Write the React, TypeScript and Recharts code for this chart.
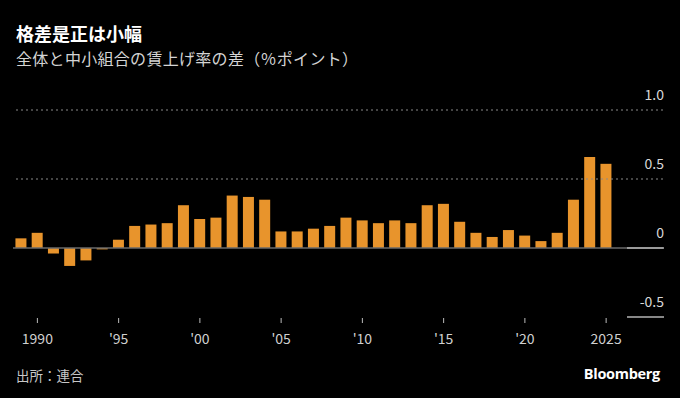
import React from 'react';
import { BarChart, Bar, XAxis, YAxis, ReferenceLine } from 'recharts';

// years 1989-2025, plus empty slots to leave room for the right-hand labels
const years = [
  1989, 1990, 1991, 1992, 1993, 1994, 1995, 1996, 1997, 1998,
  1999, 2000, 2001, 2002, 2003, 2004, 2005, 2006, 2007, 2008,
  2009, 2010, 2011, 2012, 2013, 2014, 2015, 2016, 2017, 2018,
  2019, 2020, 2021, 2022, 2023, 2024, 2025, 2026, 2027, 2028,
];
const gap = [
  0.07, 0.11, -0.04, -0.13, -0.09, -0.01, 0.06, 0.16, 0.17, 0.18,
  0.31, 0.21, 0.22, 0.38, 0.37, 0.35, 0.12, 0.12, 0.14, 0.16,
  0.22, 0.20, 0.18, 0.20, 0.18, 0.31, 0.32, 0.19, 0.11, 0.08,
  0.13, 0.09, 0.05, 0.11, 0.35, 0.66, 0.61, null, null, null,
];
const xTicks: Record<number, string> = {
  1990: '1990', 1995: "'95", 2000: "'00", 2005: "'05",
  2010: "'10", 2015: "'15", 2020: "'20", 2025: '2025',
};
const yTicks = [-0.5, 0, 0.5, 1];
const yLabels: Record<string, string> = { '-0.5': '-0.5', '0': '0', '0.5': '0.5', '1': '1.0' };

const data = years.map((y, i) => ({ year: y, value: gap[i] }));

const FONT = '"Noto Sans CJK JP", "Noto Sans", sans-serif';

function XTick(props: any) {
  const { x, y, payload } = props;
  const label = xTicks[payload.value];
  if (!label) return <g />;
  return (
    <g>
      <line x1={x} x2={x} y1={y + 1} y2={y + 6} stroke="#bbbbbb" strokeWidth={1} />
      <text x={x} y={y + 27} textAnchor="middle" fill="#d0d0d0" fontSize={14} fontFamily={FONT}>
        {label}
      </text>
    </g>
  );
}

function YTick(props: any) {
  const { x, y, payload } = props;
  const v = payload.value;
  return (
    <g>
      {v <= 0 && <line x1={x - 36} x2={x + 1} y1={y} y2={y} stroke="#b5b5b5" strokeWidth={1.5} />}
      <text x={x + 1} y={y - 10} textAnchor="end" fill="#d8d8d8" fontSize={14} fontFamily={FONT}>
        {yLabels[String(v)]}
      </text>
    </g>
  );
}

export default function App() {
  return (
    <div style={{ position: 'absolute', left: 0, top: 0, width: 680, height: 398, background: '#000', overflow: 'hidden', fontFamily: FONT }}>
      <div style={{ position: 'absolute', left: 16, top: 22, color: '#fff', fontSize: 18, fontWeight: 700, lineHeight: '22px' }}>
        格差是正は小幅
      </div>
      <div style={{ position: 'absolute', left: 16, top: 48, color: '#d4d4d4', fontSize: 16, lineHeight: '20px', letterSpacing: 0.3 }}>
        全体と中小組合の賃上げ率の差（％ポイント）
      </div>
      <div style={{ position: 'absolute', left: 0, top: 0 }}>
        <BarChart
          width={680}
          height={398}
          data={data}
          margin={{ top: 110, right: 16, left: 13, bottom: 51 }}
          barCategoryGap="15%"
        >
          <XAxis
            dataKey="year"
            height={30}
            axisLine={false}
            tickLine={false}
            tickSize={0}
            tickMargin={0}
            interval={0}
            tick={<XTick />}
          />
          <YAxis
            orientation="right"
            width={1}
            domain={[-0.5, 1]}
            ticks={yTicks}
            axisLine={false}
            tickLine={false}
            tickSize={0}
            tickMargin={0}
            tick={<YTick />}
            allowDataOverflow
          />
          <ReferenceLine y={1} stroke="#8a8a8a" strokeDasharray="2 3" />
          <ReferenceLine y={0.5} stroke="#8a8a8a" strokeDasharray="2 3" />
          <Bar dataKey="value" fill="#E8942C" isAnimationActive={false} />
          <ReferenceLine y={0} stroke="#6a6a6a" strokeWidth={1.5} />
        </BarChart>
      </div>
      <div style={{ position: 'absolute', left: 16, top: 365, color: '#c8c8c8', fontSize: 13.5, lineHeight: '20px' }}>
        出所：連合
      </div>
      <div style={{ position: 'absolute', right: 20, top: 364, color: '#fff', fontSize: 14.5, fontWeight: 700, lineHeight: '20px', fontFamily: '"Open Sans", "Noto Sans", sans-serif', letterSpacing: -0.3 }}>
        Bloomberg
      </div>
    </div>
  );
}
